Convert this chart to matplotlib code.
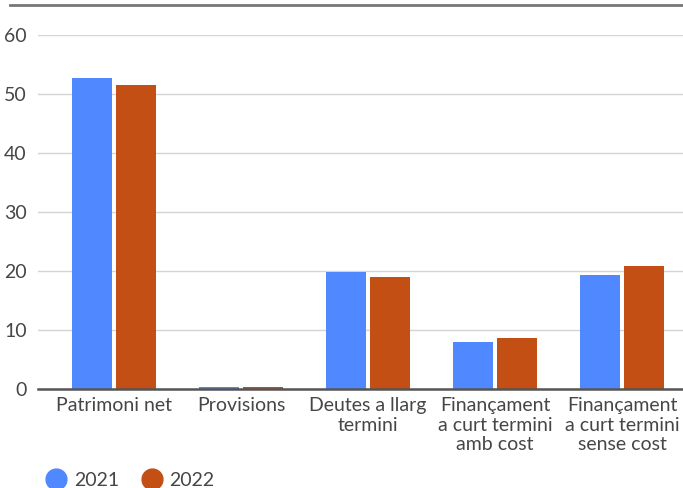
import matplotlib
matplotlib.use("Agg")
import matplotlib.pyplot as plt
from matplotlib.lines import Line2D
import numpy as np

categories = ["Patrimoni net", "Provisions", "Deutes a llarg\ntermini",
              "Finançament\na curt termini\namb cost",
              "Finançament\na curt termini\nsense cost"]
vals_2021 = [52.7, 0.3, 19.8, 8.0, 19.3]
vals_2022 = [51.5, 0.3, 19.0, 8.6, 20.8]
yticks = [0, 10, 20, 30, 40, 50, 60]

BLUE, ORANGE = "#5088FF", "#C44F15"
TXT = "#464646"

plt.rcParams["font.family"] = ["Lato", "DejaVu Sans"]

fig = plt.figure(figsize=(6.83, 4.88), dpi=100)
ax = fig.add_axes([38 / 683, 99 / 488, 645 / 683, 354 / 488])

x = np.arange(len(categories))
w = 0.315
ax.bar(x - 0.173, vals_2021, w, color=BLUE, zorder=3)
ax.bar(x + 0.173, vals_2022, w, color=ORANGE, zorder=3)

ax.set_xlim(-0.6, 4.48)
ax.set_ylim(0, 60)
ax.set_yticks(yticks)
ax.set_xticks(x)
ax.set_xticklabels(categories, fontsize=14, color=TXT, linespacing=1.18)
ax.tick_params(axis="y", length=0, pad=8, labelsize=14, labelcolor=TXT)
ax.tick_params(axis="x", length=0, pad=6)
ax.grid(axis="y", color="#d4d4d4", lw=1, zorder=0)
for s in ["top", "right", "left"]:
    ax.spines[s].set_visible(False)
ax.spines["bottom"].set_color("#555555")
ax.spines["bottom"].set_linewidth(1.8)
ax.spines["bottom"].set_zorder(4)

# top rule
fig.add_artist(Line2D([10 / 683, 1], [483 / 488, 483 / 488],
                      color="#777777", lw=2, transform=fig.transFigure))

handles = [Line2D([], [], marker="o", ls="", color=BLUE, markersize=15),
           Line2D([], [], marker="o", ls="", color=ORANGE, markersize=15)]
fig.legend(handles, ["2021", "2022"], loc="lower left",
           bbox_to_anchor=(27 / 683, -18 / 488), ncol=2, frameon=False,
           fontsize=14, labelcolor=TXT, handletextpad=0.3,
           columnspacing=1.1, handlelength=1.2)

fig.savefig("out.png", dpi=100)
